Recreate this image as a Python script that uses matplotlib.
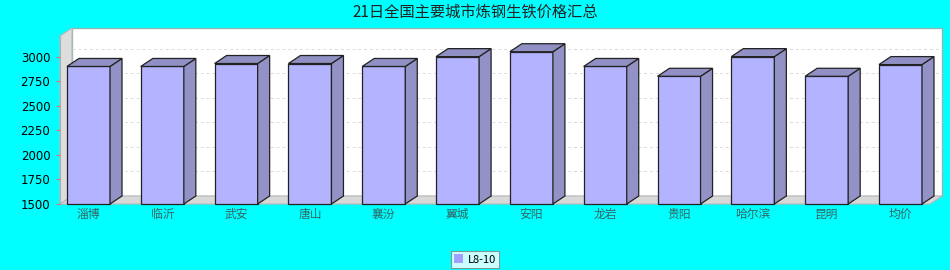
import matplotlib.pyplot as plt
from matplotlib.patches import Polygon, Rectangle

plt.rcParams['font.family'] = ['Noto Sans CJK SC', 'DejaVu Sans']

# 数据
cities = ['淄博', '临沂', '武安', '唐山', '襄汾', '翼城', '安阳', '龙岩', '贵阳', '哈尔滨', '昆明', '均价']
prices = [2900, 2900, 2930, 2930, 2900, 3000, 3050, 2900, 2800, 3000, 2800, 2919]
yticks = [1500, 1750, 2000, 2250, 2500, 2750, 3000]
series_name = 'L8-10'
title = '21日全国主要城市炼钢生铁价格汇总'

W, H = 950, 270
fig = plt.figure(figsize=(W / 100, H / 100), dpi=100, facecolor='#00FFFF')

# 前平面区域 (像素)
left_px, right_px, bottom_px, top_px = 60, 930, 204, 36
ax = fig.add_axes([left_px / W, 1 - bottom_px / H, (right_px - left_px) / W, (bottom_px - top_px) / H])
ax.set_facecolor('none')

xmin, xmax = -0.386, 11.40
ymin, ymax = 1500, 3210
ax.set_xlim(xmin, xmax)
ax.set_ylim(ymin, ymax)

# 3D 深度 (像素 -> 数据单位)
dx = 12 * (xmax - xmin) / (right_px - left_px)
dy = 8 * (ymax - ymin) / (bottom_px - top_px)

# 背景墙、左墙、地面
ax.add_patch(Rectangle((xmin + dx, ymin + dy), xmax - xmin, ymax - ymin,
                       facecolor='white', edgecolor='#8FB8B8', lw=1, clip_on=False, zorder=0))
ax.add_patch(Polygon([(xmin, ymin), (xmin, ymax), (xmin + dx, ymax + dy), (xmin + dx, ymin + dy)],
                     facecolor='#DDDDDD', edgecolor='#B8B8B8', lw=0.8, clip_on=False, zorder=0.5))
ax.add_patch(Polygon([(xmin, ymin), (xmax, ymin), (xmax + dx, ymin + dy), (xmin + dx, ymin + dy)],
                     facecolor='#D8D8D8', edgecolor='#B8B8B8', lw=0.8, clip_on=False, zorder=0.5))

# 网格线画在背景墙上
for v in yticks[1:]:
    ax.plot([xmin + dx, xmax + dx], [v + dy, v + dy], color='#DADADA', lw=0.7,
            ls=(0, (3, 3)), clip_on=False, zorder=0.8)

# 3D 柱
bw = 0.583
for i, p in enumerate(prices):
    x0, x1 = i - bw / 2, i + bw / 2
    ax.add_patch(Rectangle((x0, ymin), bw, p - ymin, facecolor='#B3B3FF',
                           edgecolor='#222222', lw=0.9, clip_on=False, zorder=2))
    ax.add_patch(Polygon([(x1, ymin), (x1, p), (x1 + dx, p + dy), (x1 + dx, ymin + dy)],
                         facecolor='#9292C6', edgecolor='#222222', lw=0.9, clip_on=False, zorder=2))
    ax.add_patch(Polygon([(x0, p), (x1, p), (x1 + dx, p + dy), (x0 + dx, p + dy)],
                         facecolor='#9090C4', edgecolor='#222222', lw=0.9, clip_on=False, zorder=2))

# 坐标轴
ax.set_xticks(range(len(cities)))
ax.set_xticklabels(cities, fontsize=8.5, color='#336666')
ax.tick_params(axis='x', length=0, pad=3)
ax.set_yticks(yticks)
ax.set_yticklabels([str(v) for v in yticks], fontsize=8.5, color='black', family='DejaVu Sans')
ax.tick_params(axis='y', length=3, color='#E07070', pad=4)
for s in ['top', 'right', 'bottom']:
    ax.spines[s].set_visible(False)
ax.spines['left'].set_color('#B0B0B0')
ax.spines['left'].set_zorder(1)

fig.text(0.5, 1 - 12 / H, title, ha='center', va='center', fontsize=11, color='#222222')

# 图例
lg = fig.legend([Rectangle((0, 0), 1, 1, facecolor='#A0A0FF', edgecolor='none')], [series_name],
                loc='center', bbox_to_anchor=(475 / W, 1 - 259.5 / H), frameon=True, fancybox=False,
                fontsize=8, handlelength=0.8, handleheight=0.8, handletextpad=0.4,
                borderpad=0.3, borderaxespad=0)
lg.get_frame().set_edgecolor('#808080')
lg.get_frame().set_linewidth(0.8)

fig.savefig('out.png', dpi=100, facecolor=fig.get_facecolor())
